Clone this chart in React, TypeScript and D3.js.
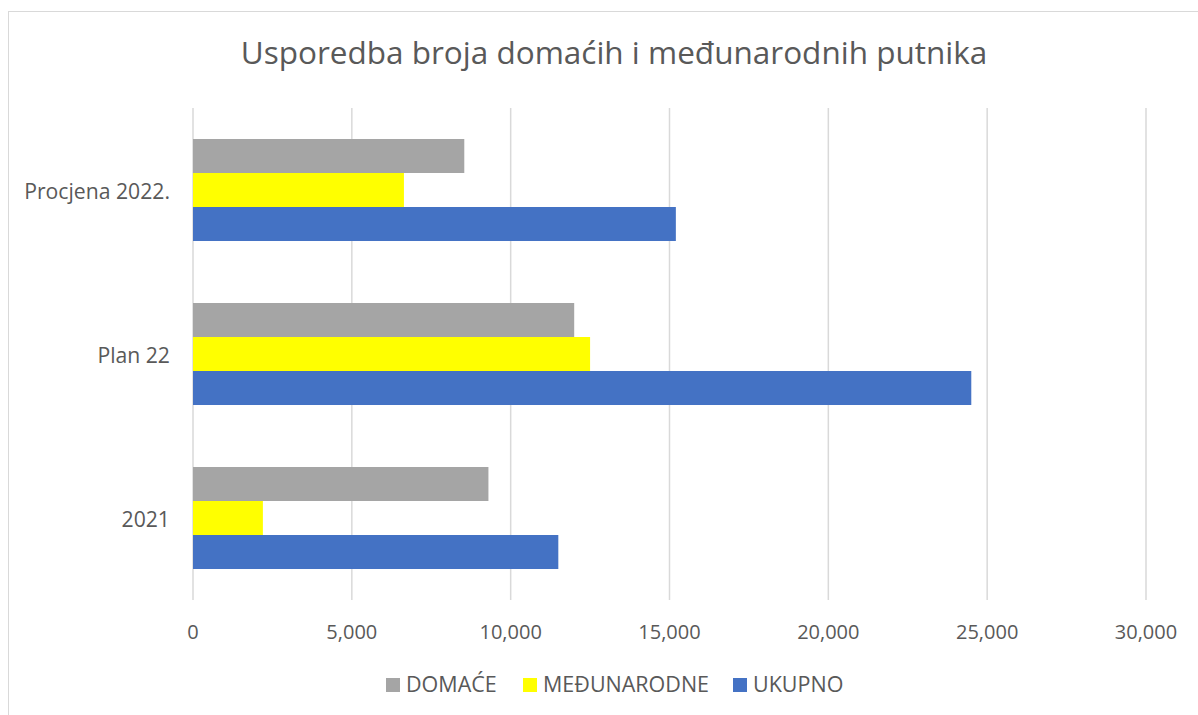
import React from "react";
import * as d3 from "d3";

const categories = ["Procjena 2022.", "Plan 22", "2021"];
const seriesNames = ["DOMAĆE", "MEĐUNARODNE", "UKUPNO"];
const domace = [8540, 12000, 9300];
const medunarodne = [6640, 12500, 2200];
const ukupno = [15200, 24500, 11500];
const xTicks = [0, 5000, 10000, 15000, 20000, 25000, 30000];
const colors = ["#A5A5A5", "#FFFF00", "#4472C4"];

const W = 1198;
const H = 715;
const left = 193;
const right = 1146;
const top = 108;
const bottom = 600;
const font = "'Open Sans', sans-serif";
const textColor = "#595959";

export default function App() {
  const x = d3.scaleLinear().domain([0, 30000]).range([left, right]);
  const y = d3
    .scaleBand<string>()
    .domain(categories)
    .range([top, bottom])
    .paddingInner(0.378)
    .paddingOuter(0.189);
  const sub = d3.scaleBand<string>().domain(seriesNames).range([0, y.bandwidth()]);
  const values = [domace, medunarodne, ukupno];
  const fmt = d3.format(",");

  const legendItems = [
    { name: seriesNames[0], x: 386 },
    { name: seriesNames[1], x: 523 },
    { name: seriesNames[2], x: 733 },
  ];

  return (
    <svg width={W} height={H} style={{ position: "absolute", left: 0, top: 0 }}>
      <rect x={0} y={0} width={W} height={H} fill="#fff" />
      <rect x={8.5} y={11.5} width={1300} height={800} fill="#fff" stroke="#D9D9D9" strokeWidth={1} />
      <text x={614} y={64} textAnchor="middle" fontFamily={font} fontSize={31.5} fill={textColor}>
        Usporedba broja domaćih i međunarodnih putnika
      </text>
      {xTicks.map((t) => (
        <line key={t} x1={x(t)} x2={x(t)} y1={top} y2={bottom} stroke="#D9D9D9" strokeWidth={1.5} />
      ))}
      {categories.map((c, ci) =>
        values.map((vals, si) => (
          <rect
            key={c + si}
            x={x(0)}
            y={(y(c) ?? 0) + (sub(seriesNames[si]) ?? 0)}
            width={x(vals[ci]) - x(0)}
            height={sub.bandwidth()}
            fill={colors[si]}
          />
        ))
      )}
      {xTicks.map((t) => (
        <text key={t} x={x(t)} y={639} textAnchor="middle" fontFamily={font} fontSize={20} fill={textColor}>
          {fmt(t)}
        </text>
      ))}
      {categories.map((c) => (
        <text
          key={c}
          x={170}
          y={(y(c) ?? 0) + y.bandwidth() / 2 + 8.5}
          textAnchor="end"
          fontFamily={font}
          fontSize={21.2}
          fill={textColor}
        >
          {c}
        </text>
      ))}
      {legendItems.map((it, i) => (
        <g key={it.name}>
          <rect x={it.x} y={678} width={14} height={14} fill={colors[i]} />
          <text x={it.x + 20} y={692} fontFamily={font} fontSize={21.5} fill={textColor}>
            {it.name}
          </text>
        </g>
      ))}
    </svg>
  );
}
